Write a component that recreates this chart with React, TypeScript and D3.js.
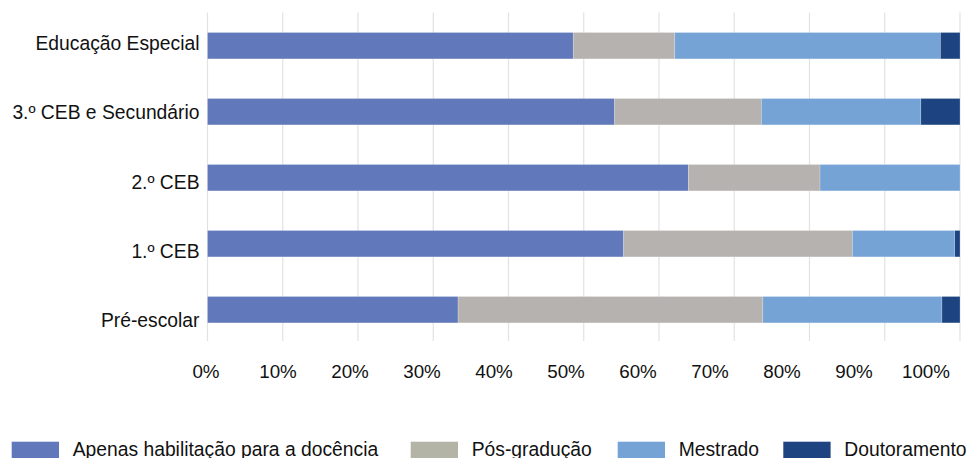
import React from "react";
import * as d3 from "d3";

const categories = [
  "Educação Especial",
  "3.º CEB e Secundário",
  "2.º CEB",
  "1.º CEB",
  "Pré-escolar",
];
const seriesNames = [
  "Apenas habilitação para a docência",
  "Pós-gradução",
  "Mestrado",
  "Doutoramento",
];
const apenas = [48.6, 54.1, 63.9, 55.3, 33.3];
const posGrad = [13.5, 19.5, 17.5, 30.4, 40.5];
const mestrado = [35.3, 21.2, 18.6, 13.6, 23.8];
const doutoramento = [2.6, 5.2, 0, 0.7, 2.4];
const tickValues = [0, 10, 20, 30, 40, 50, 60, 70, 80, 90, 100];

const barColors = ["#6179BA", "#B5B2AF", "#75A3D5", "#1D4480"];
const legendColors = ["#6179BA", "#B3B4A6", "#75A3D5", "#1D4480"];
const legendX = [11.7, 410.7, 617.7, 783.3];

const W = 971;
const H = 458;
const FONT = "'Liberation Sans', Arial, sans-serif";

export default function App() {
  const rows = categories.map((c, i) => ({
    cat: c,
    s0: apenas[i],
    s1: posGrad[i],
    s2: mestrado[i],
    s3: doutoramento[i],
  }));
  const keys = ["s0", "s1", "s2", "s3"];
  const stacked = d3.stack<any>().keys(keys)(rows);

  const x = d3.scaleLinear().domain([0, 100]).range([207.5, 960]);
  const xLabel = d3.scaleLinear().domain([0, 100]).range([206, 926]);
  const y = d3
    .scaleBand()
    .domain(categories)
    .range([12.7, 342.7])
    .paddingInner(0.6)
    .paddingOuter(0.3);
  const yLabel = d3.scalePoint().domain(categories).range([43.5, 320]);

  return (
    <svg
      width={W}
      height={H}
      style={{ position: "absolute", left: 0, top: 0, background: "#fff" }}
      fontFamily={FONT}
    >
      <rect width={W} height={H} fill="#fff" />
      {tickValues.map((t) => (
        <line
          key={"g" + t}
          x1={x(t)}
          x2={x(t)}
          y1={12.5}
          y2={341}
          stroke="#E2E2E2"
          strokeWidth={1.2}
        />
      ))}
      {stacked.map((layer, si) => (
        <g key={layer.key} fill={barColors[si]}>
          {layer.map((d, i) => {
            const w = x(d[1]) - x(d[0]);
            if (w <= 0) return null;
            return (
              <rect
                key={i}
                x={x(d[0])}
                y={y(categories[i])}
                width={w}
                height={y.bandwidth()}
                stroke="#ffffff"
                strokeOpacity={0.35}
                strokeWidth={0.6}
              />
            );
          })}
        </g>
      ))}
      {categories.map((c) => (
        <text
          key={"yl" + c}
          x={199.5}
          y={yLabel(c)}
          dy="0.35em"
          textAnchor="end"
          fontSize={19.3}
          fill="#111"
        >
          {c}
        </text>
      ))}
      {tickValues.map((t) => (
        <text
          key={"xl" + t}
          x={xLabel(t)}
          y={378.3}
          textAnchor="middle"
          fontSize={18.8}
          fill="#111"
        >
          {t + "%"}
        </text>
      ))}
      {seriesNames.map((n, i) => (
        <g key={"lg" + n}>
          <rect
            x={legendX[i]}
            y={441.7}
            width={47.3}
            height={20}
            fill={legendColors[i]}
          />
          <text x={legendX[i] + 61} y={455.5} fontSize={19.3} fill="#111">
            {n}
          </text>
        </g>
      ))}
    </svg>
  );
}
